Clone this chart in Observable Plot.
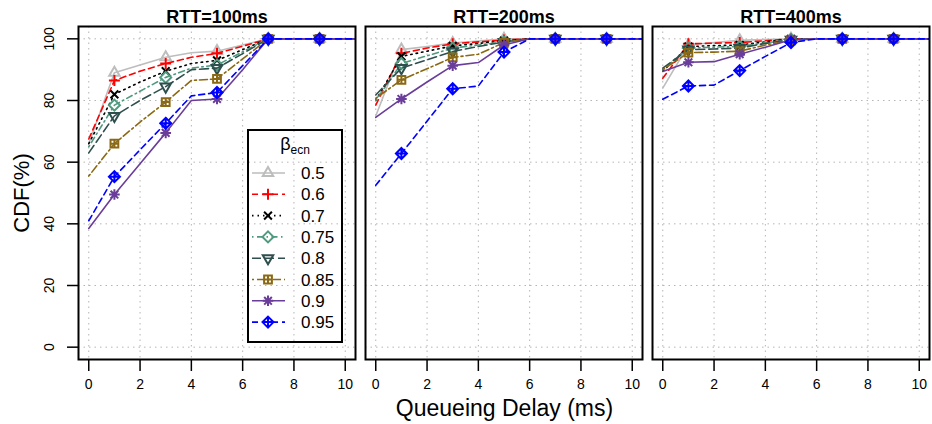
<!DOCTYPE html>
<html><head><meta charset="utf-8">
<script src="https://cdn.jsdelivr.net/npm/d3@7"></script>
<script src="https://cdn.jsdelivr.net/npm/@observablehq/plot@0.6"></script>
<style>
body{margin:0;background:#fff;font-family:"Liberation Sans",Arial,sans-serif;}
#wrap{position:relative;width:932px;height:424px;}
#xlabel{position:absolute;left:77px;width:855px;top:394px;text-align:center;font-size:23px;line-height:28px;color:#000;}
#legend{position:absolute;left:0;top:0;}
</style></head><body>
<div id="wrap"><div id="chart"></div><div id="xlabel">Queueing Delay (ms)</div></div>
<script>
// ---------- data ----------
const delays = [0,1,2,3,4,5,6,7,8,9,10,11,12];
const rtts = [100, 200, 400];
const betas = ["0.5","0.6","0.7","0.75","0.8","0.85","0.9","0.95"];
const xTicks = [0,2,4,6,8,10];
const yTicks = [0,20,40,60,80,100];

// CDF(%) per beta (rows) at delays 0..12 ms
const cdf100 = [
  [66,  89,  91.5, 94,  95.5, 96,  98,  100,100,100,100,100,100],
  [67.5,86.5,89.5, 92,  94,   95.3,97.6,100,100,100,100,100,100],
  [66,  82,  86,   89.5,92,   93,  96.5,100,100,100,100,100,100],
  [65,  78.5,83,   87.5,90.5, 91.5,95.8,100,100,100,100,100,100],
  [63,  75,  80,   84.5,90,   90.5,95.2,100,100,100,100,100,100],
  [55.5,66,  73,   79.5,86.5, 87,  93.5,100,100,100,100,100,100],
  [38.5,49.5,59.5, 69.5,80,   80.5,90,  100,100,100,100,100,100],
  [41,  55.3,64,   72.6,81.5, 82.6,91.3,100,100,100,100,100,100]
];
const cdf200 = [
  [75,  96.5,97.5, 98.6,99.3, 100, 100,100,100,100,100,100,100],
  [78.5,95.3,97,   98.4,99,   99.6,100,100,100,100,100,100,100],
  [80,  94.3,96,   97.7,98.5, 99.4,100,100,100,100,100,100,100],
  [80,  92,  94.5, 97,  98,   99,  100,100,100,100,100,100,100],
  [81.8,90.5,93.2, 95.9,97.5, 99,  100,100,100,100,100,100,100],
  [80.7,86.7,90.3, 94,  95,   98.8,100,100,100,100,100,100,100],
  [74.5,80.5,86,   91.3,92.3, 98,  100,100,100,100,100,100,100],
  [52.5,62.8,73.3, 83.8,84.7, 95.7,100,100,100,100,100,100,100]
];
const cdf400 = [
  [84,  98,  98.8, 99.5,99.8, 100, 100,100,100,100,100,100,100],
  [87.2,98.4,98.6, 98.8,99.4, 100, 100,100,100,100,100,100,100],
  [89.5,97.5,97.8, 98,  99,   100, 100,100,100,100,100,100,100],
  [90,  97,  97.3, 97.5,98.7, 99.8,100,100,100,100,100,100,100],
  [90.5,96.5,96.7, 97,  98.5, 99.7,100,100,100,100,100,100,100],
  [90,  95.5,95.7, 96,  98,   99.5,100,100,100,100,100,100,100],
  [89.4,92.4,92.6, 95,  97.3, 99.7,100,100,100,100,100,100,100],
  [80.4,84.7,85,   89.7,94.3, 98.8,100,100,100,100,100,100,100]
];
const markerDelays = [1,3,5,7,9];

// ---------- styles ----------
const colors = ["#bdbdbd","#ff0000","#000000","#4f9a7e","#2f4f4f","#8b6914","#6a3d9a","#0000ff"];
const dashes = [null,"6,4","1.5,4","1.5,3.5,6,3.5","9,4","2,3,8,3",null,"6,4"];

const s3 = Math.sqrt(3);
const triUp = {draw(c, size){const s=Math.sqrt(size)*0.6824,t=s/2,u=s*s3/2;c.moveTo(0,-s);c.lineTo(u,t);c.lineTo(-u,t);c.closePath();}};
const triDown = {draw(c, size){const s=Math.sqrt(size)*0.6824,t=s/2,u=s*s3/2;c.moveTo(0,s);c.lineTo(u,-t);c.lineTo(-u,-t);c.closePath();}};
const plusS = {draw(c, size){const r=Math.sqrt(size)*0.62;c.moveTo(-r,0);c.lineTo(r,0);c.moveTo(0,-r);c.lineTo(0,r);}};
const timesS = {draw(c, size){const r=Math.sqrt(size)*0.44;c.moveTo(-r,-r);c.lineTo(r,r);c.moveTo(r,-r);c.lineTo(-r,r);}};
const diamondS = {draw(c, size){const r=Math.sqrt(size)*0.62;c.moveTo(0,-r);c.lineTo(r,0);c.lineTo(0,r);c.lineTo(-r,0);c.closePath();}};
const squarePlus = {draw(c, size){const s=Math.sqrt(size)*0.44;c.moveTo(s,s);c.lineTo(s,-s);c.lineTo(-s,-s);c.lineTo(-s,s);c.closePath();c.moveTo(-s,0);c.lineTo(s,0);c.moveTo(0,-s);c.lineTo(0,s);}};
const asteriskS = {draw(c, size){const r=Math.sqrt(size)*0.6,q=r*0.72;c.moveTo(-r,0);c.lineTo(r,0);c.moveTo(0,-r);c.lineTo(0,r);c.moveTo(-q,-q);c.lineTo(q,q);c.moveTo(q,-q);c.lineTo(-q,q);}};
const diamondPlus = {draw(c, size){const r=Math.sqrt(size)*0.62;c.moveTo(0,-r);c.lineTo(r,0);c.lineTo(0,r);c.lineTo(-r,0);c.closePath();c.moveTo(-r,0);c.lineTo(r,0);c.moveTo(0,-r);c.lineTo(0,r);}};
const symbols = [triUp, plusS, timesS, diamondS, triDown, squarePlus, asteriskS, diamondPlus];
const markerR = 5;

// ---------- table ----------
const tables = [cdf100, cdf200, cdf400];
const rows = [];
rtts.forEach((rtt, i) => betas.forEach((b, j) => delays.forEach((d, k) => rows.push({rtt, beta: b, delay: d, cdf: tables[i][j][k]}))));

const seriesMarks = betas.flatMap((b, j) => {
  const data = rows.filter(r => r.beta === b);
  return [
    Plot.line(data, {x: "delay", y: "cdf", fx: "rtt", stroke: colors[j], strokeWidth: 1.6, strokeDasharray: dashes[j] || undefined, clip: true}),
    Plot.dot(data.filter(r => markerDelays.includes(r.delay)), {x: "delay", y: "cdf", fx: "rtt", symbol: symbols[j], r: markerR, stroke: colors[j], fill: "none", strokeWidth: 2})
  ];
});

const yLabelRows = yTicks.map(v => ({v, rtt: rtts[0]}));

const chart = Plot.plot({
  width: 932,
  height: 395,
  marginLeft: 77,
  marginRight: 2,
  marginTop: 26,
  marginBottom: 36,
  style: {fontFamily: "'Liberation Sans', Arial, sans-serif", color: "#000", background: "#fff"},
  fx: {domain: rtts, paddingInner: 0.035, paddingOuter: 0},
  x: {domain: [-0.4, 10.4]},
  y: {domain: [-4, 104]},
  marks: [
    Plot.gridX(xTicks, {stroke: "#b5b5b5", strokeOpacity: 1, strokeDasharray: "1.5,4"}),
    Plot.gridY(yTicks, {stroke: "#b5b5b5", strokeOpacity: 1, strokeDasharray: "1.5,4"}),
    ...seriesMarks,
    Plot.frame({stroke: "#000", strokeWidth: 2}),
    Plot.axisFx({anchor: "top", tickSize: 0, tickPadding: 4, fontSize: 18, fontWeight: "bold", tickFormat: d => `RTT=${d}ms`, label: null}),
    Plot.axisX(xTicks, {tickSize: 12, tickPadding: 8, fontSize: 14, label: null, strokeWidth: 1.5}),
    Plot.axisY(yTicks, {tickSize: 11, tickFormat: () => "", label: null, strokeWidth: 1.5}),
    Plot.text(yLabelRows, {fx: "rtt", y: "v", text: d => String(d.v), frameAnchor: "left", dx: -29, rotate: -90, textAnchor: "middle", lineAnchor: "middle", fontSize: 14, fill: "#000"}),
    Plot.axisY({ticks: [], tickSize: 0, fontSize: 22, label: "CDF(%)", labelAnchor: "center", labelArrow: "none", labelOffset: 65})
  ]
});
document.getElementById("chart").appendChild(chart);

// ---------- legend ----------
const lg = d3.select("#wrap").append("svg").attr("id", "legend").attr("width", 932).attr("height", 424);
const lx = 248, ly = 130, lw = 94, lh = 212;
lg.append("rect").attr("x", lx).attr("y", ly).attr("width", lw).attr("height", lh).attr("fill", "none").attr("stroke", "#000").attr("stroke-width", 2);
const tt = lg.append("text").attr("x", lx + lw/2).attr("y", ly + 20).attr("text-anchor", "middle").attr("font-family", "'Liberation Sans', Arial, sans-serif").attr("font-size", 18);
tt.append("tspan").text("β");
tt.append("tspan").attr("font-size", 12).attr("dy", 4).text("ecn");
betas.forEach((b, j) => {
  const y = ly + 43 + j * 21.3;
  lg.append("line").attr("x1", lx + 4).attr("x2", lx + 37).attr("y1", y).attr("y2", y)
    .attr("stroke", colors[j]).attr("stroke-width", 1.6).attr("stroke-dasharray", dashes[j]);
  lg.append("path").attr("transform", `translate(${lx + 20},${y})`)
    .attr("d", d3.symbol(symbols[j], markerR * markerR * Math.PI)())
    .attr("fill", "none").attr("stroke", colors[j]).attr("stroke-width", 2);
  lg.append("text").attr("x", lx + 53).attr("y", y).attr("dy", "0.36em")
    .attr("font-family", "'Liberation Sans', Arial, sans-serif").attr("font-size", 17).text(b);
});
</script>
</body></html>
